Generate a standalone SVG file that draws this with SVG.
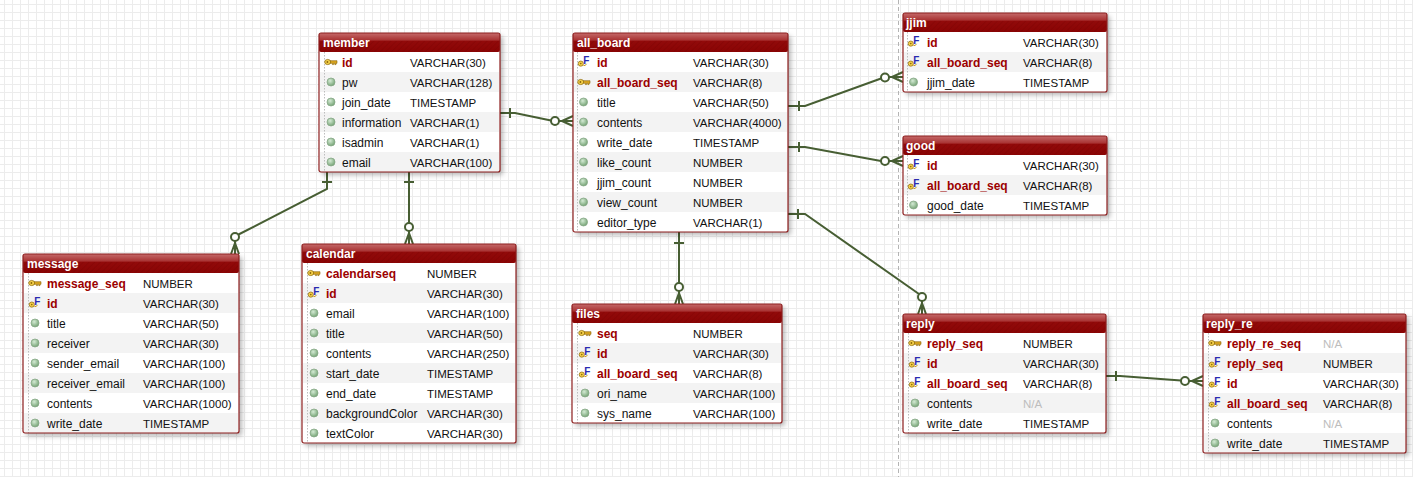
<svg xmlns="http://www.w3.org/2000/svg" xmlns:xlink="http://www.w3.org/1999/xlink" width="1413" height="477" viewBox="0 0 1413 477">
<defs>
<style>
text{font-family:"Liberation Sans",Arial,sans-serif;}
.ht{font-size:12px;font-weight:bold;fill:#fff;}
.k{font-size:12px;font-weight:bold;fill:#9c0000;}
.n{font-size:12px;fill:#111;}
.t{font-size:11.5px;fill:#111;}
.na{font-size:11.5px;fill:#bdbdbd;}
.body{fill:#fff;filter:url(#sh);}
.hd{fill:url(#hg);}
.hatch{fill:url(#hp);}
.alt{fill:#f3f3f3;}
.dot{stroke:#bdbdbd;stroke-width:1;stroke-dasharray:1.5,1.5;}
.frame{fill:none;stroke:#8e1f1f;stroke-width:1.2;}
.cn{fill:none;stroke:#475e33;stroke-width:2;}
.ci{fill:#fff;stroke:#475e33;stroke-width:2;}
.ff{font-size:10px;font-weight:bold;fill:#2a2ab0;}
</style>
<pattern id="grid" x="4" y="4" width="8" height="8" patternUnits="userSpaceOnUse">
<path d="M0,0.5 H8 M0.5,0 V8" fill="none" stroke="#ececec" stroke-width="1"/>
</pattern>
<pattern id="hp" width="4" height="4" patternUnits="userSpaceOnUse" patternTransform="rotate(45)">
<line x1="0" y1="0" x2="0" y2="4" stroke="#6a0000" stroke-width="1.2" stroke-opacity="0.35"/>
</pattern>
<linearGradient id="hg" x1="0" y1="0" x2="0" y2="1">
<stop offset="0" stop-color="#c56a6a"/>
<stop offset="0.38" stop-color="#a83232"/>
<stop offset="0.42" stop-color="#920a0a"/>
<stop offset="1" stop-color="#8a0404"/>
</linearGradient>
<radialGradient id="gc" cx="0.4" cy="0.35" r="0.7">
<stop offset="0" stop-color="#d4ead4"/>
<stop offset="1" stop-color="#6f9f6f"/>
</radialGradient>
<filter id="sh" x="-10%" y="-10%" width="125%" height="130%">
<feDropShadow dx="3" dy="3" stdDeviation="2.5" flood-color="#000" flood-opacity="0.28"/>
</filter>
<g id="col"><circle r="4" fill="url(#gc)" stroke="#88a888" stroke-width="0.8"/></g>
<g id="pk">
<path d="M-1,-1.3 H6 V1.3 H5 V2.6 H3.8 V1.3 H2.6 V2.6 H1.4 V1.3 H-1 Z" fill="#d9a520" stroke="#8a6508" stroke-width="0.6"/>
<ellipse cx="-3.3" cy="0" rx="3" ry="2.6" fill="#f3cf4a" stroke="#8a6508" stroke-width="0.7"/>
<circle cx="-3.6" cy="0" r="0.9" fill="#8a6508"/>
</g>
<g id="fk">
<circle cx="-3.2" cy="1.6" r="2.6" fill="#f3cf4a" stroke="#8a6508" stroke-width="0.7"/>
<circle cx="-3.2" cy="1.6" r="0.8" fill="#8a6508"/>
<path d="M-0.5,3.5 Q1.5,4.2 2.5,1.8" fill="none" stroke="#c89a20" stroke-width="1"/>
<text class="ff" x="-0.8" y="2.2">F</text>
</g>
</defs>

<rect width="1413" height="477" fill="#fff"/>
<rect width="1413" height="477" fill="url(#grid)"/>
<line x1="898.5" y1="0" x2="898.5" y2="477" stroke="#b4b4b4" stroke-width="1" stroke-dasharray="4,3"/>

<g id="connectors">
<!-- member - all_board -->
<path class="cn" d="M500,113 H515 L551,120.5 M510,108 V118 M559,121 H573 M562,121 L573,116 M562,121 L573,126"/>
<circle class="ci" cx="555" cy="121" r="4"/>
<!-- member - message -->
<path class="cn" d="M327,172 V189 L238.5,234.5 M322,182 H332 M235,241 V254 M235,243 L231,254 M235,243 L239,254"/>
<circle class="ci" cx="235" cy="237" r="4"/>
<!-- member - calendar -->
<path class="cn" d="M409,172 V223 M404,182 H414 M409,231 V244 M409,233 L405,244 M409,233 L413,244"/>
<circle class="ci" cx="409" cy="227" r="4"/>
<!-- all_board - jjim -->
<path class="cn" d="M788,106 H805 L881,78.5 M799,101 V111 M889,77 H903 M892,77 L903,72 M892,77 L903,82"/>
<circle class="ci" cx="885" cy="77.5" r="4"/>
<!-- all_board - good -->
<path class="cn" d="M788,147 H805 L881,161 M799,142 V152 M889,161 H903 M892,161 L903,156 M892,161 L903,166"/>
<circle class="ci" cx="885" cy="161" r="4"/>
<!-- all_board - files -->
<path class="cn" d="M679,232 V283 M674,243 H684 M679,291 V304 M679,293 L675,304 M679,293 L683,304"/>
<circle class="ci" cx="679" cy="287" r="4"/>
<!-- all_board - reply -->
<path class="cn" d="M788,214 H805 L919,294 M798,209 V219 M922,301 V314 M922,303 L918,314 M922,303 L926,314"/>
<circle class="ci" cx="922" cy="297" r="4"/>
<!-- reply - reply_re -->
<path class="cn" d="M1106,376 H1120 L1181,380.5 M1116,371 V381 M1189,381 H1203 M1192,381 L1203,376 M1192,381 L1203,386"/>
<circle class="ci" cx="1185" cy="381" r="4"/>
</g>

<g id="member" transform="translate(319,33)">
<rect class="body" width="181" height="139" rx="2"/>
<rect class="hd" width="181" height="19" rx="2"/>
<rect class="hatch" x="0" y="8" width="181" height="11"/>
<rect class="alt" x="1" y="39" width="179" height="20"/><rect class="alt" x="1" y="79" width="179" height="20"/><rect class="alt" x="1" y="119" width="179" height="20"/>
<line class="dot" x1="5.5" y1="19" x2="5.5" y2="139"/>
<text class="ht" x="4" y="14">member</text>
<use href="#pk" x="12" y="29"/><text class="k" x="23" y="33.5">id</text><text class="t" x="91" y="33.5">VARCHAR(30)</text>
<use href="#col" x="12" y="49"/><text class="n" x="23" y="53.5">pw</text><text class="t" x="91" y="53.5">VARCHAR(128)</text>
<use href="#col" x="12" y="69"/><text class="n" x="23" y="73.5">join_date</text><text class="t" x="91" y="73.5">TIMESTAMP</text>
<use href="#col" x="12" y="89"/><text class="n" x="23" y="93.5">information</text><text class="t" x="91" y="93.5">VARCHAR(1)</text>
<use href="#col" x="12" y="109"/><text class="n" x="23" y="113.5">isadmin</text><text class="t" x="91" y="113.5">VARCHAR(1)</text>
<use href="#col" x="12" y="129"/><text class="n" x="23" y="133.5">email</text><text class="t" x="91" y="133.5">VARCHAR(100)</text>
<rect class="frame" width="181" height="139" rx="2"/>
</g>

<g id="all_board" transform="translate(573,33)">
<rect class="body" width="215" height="199" rx="2"/>
<rect class="hd" width="215" height="19" rx="2"/>
<rect class="hatch" x="0" y="8" width="215" height="11"/>
<rect class="alt" x="1" y="39" width="213" height="20"/><rect class="alt" x="1" y="79" width="213" height="20"/><rect class="alt" x="1" y="119" width="213" height="20"/><rect class="alt" x="1" y="159" width="213" height="20"/>
<line class="dot" x1="4.5" y1="19" x2="4.5" y2="199"/>
<text class="ht" x="4" y="14">all_board</text>
<use href="#fk" x="11" y="29"/><text class="k" x="24" y="33.5">id</text><text class="t" x="120" y="33.5">VARCHAR(30)</text>
<use href="#pk" x="11" y="49"/><text class="k" x="24" y="53.5">all_board_seq</text><text class="t" x="120" y="53.5">VARCHAR(8)</text>
<use href="#col" x="10.5" y="69"/><text class="n" x="24" y="73.5">title</text><text class="t" x="120" y="73.5">VARCHAR(50)</text>
<use href="#col" x="10.5" y="89"/><text class="n" x="24" y="93.5">contents</text><text class="t" x="120" y="93.5">VARCHAR(4000)</text>
<use href="#col" x="10.5" y="109"/><text class="n" x="24" y="113.5">write_date</text><text class="t" x="120" y="113.5">TIMESTAMP</text>
<use href="#col" x="10.5" y="129"/><text class="n" x="24" y="133.5">like_count</text><text class="t" x="120" y="133.5">NUMBER</text>
<use href="#col" x="10.5" y="149"/><text class="n" x="24" y="153.5">jjim_count</text><text class="t" x="120" y="153.5">NUMBER</text>
<use href="#col" x="10.5" y="169"/><text class="n" x="24" y="173.5">view_count</text><text class="t" x="120" y="173.5">NUMBER</text>
<use href="#col" x="10.5" y="189"/><text class="n" x="24" y="193.5">editor_type</text><text class="t" x="120" y="193.5">VARCHAR(1)</text>
<rect class="frame" width="215" height="199" rx="2"/>
</g>

<g id="jjim" transform="translate(903,13)">
<rect class="body" width="204" height="79" rx="2"/>
<rect class="hd" width="204" height="19" rx="2"/>
<rect class="hatch" x="0" y="8" width="204" height="11"/>
<rect class="alt" x="1" y="39" width="202" height="20"/>
<line class="dot" x1="4.5" y1="19" x2="4.5" y2="79"/>
<text class="ht" x="3" y="14">jjim</text>
<use href="#fk" x="11" y="29"/><text class="k" x="24" y="33.5">id</text><text class="t" x="120" y="33.5">VARCHAR(30)</text>
<use href="#fk" x="11" y="49"/><text class="k" x="24" y="53.5">all_board_seq</text><text class="t" x="120" y="53.5">VARCHAR(8)</text>
<use href="#col" x="10.5" y="69"/><text class="n" x="24" y="73.5">jjim_date</text><text class="t" x="120" y="73.5">TIMESTAMP</text>
<rect class="frame" width="204" height="79" rx="2"/>
</g>

<g id="good" transform="translate(903,136)">
<rect class="body" width="204" height="79" rx="2"/>
<rect class="hd" width="204" height="19" rx="2"/>
<rect class="hatch" x="0" y="8" width="204" height="11"/>
<rect class="alt" x="1" y="39" width="202" height="20"/>
<line class="dot" x1="4.5" y1="19" x2="4.5" y2="79"/>
<text class="ht" x="3" y="14">good</text>
<use href="#fk" x="11" y="29"/><text class="k" x="24" y="33.5">id</text><text class="t" x="120" y="33.5">VARCHAR(30)</text>
<use href="#fk" x="11" y="49"/><text class="k" x="24" y="53.5">all_board_seq</text><text class="t" x="120" y="53.5">VARCHAR(8)</text>
<use href="#col" x="10.5" y="69"/><text class="n" x="24" y="73.5">good_date</text><text class="t" x="120" y="73.5">TIMESTAMP</text>
<rect class="frame" width="204" height="79" rx="2"/>
</g>

<g id="message" transform="translate(23,254)">
<rect class="body" width="216" height="179" rx="2"/>
<rect class="hd" width="216" height="19" rx="2"/>
<rect class="hatch" x="0" y="8" width="216" height="11"/>
<rect class="alt" x="1" y="39" width="214" height="20"/><rect class="alt" x="1" y="79" width="214" height="20"/><rect class="alt" x="1" y="119" width="214" height="20"/><rect class="alt" x="1" y="159" width="214" height="20"/>
<line class="dot" x1="5.5" y1="19" x2="5.5" y2="179"/>
<text class="ht" x="4" y="14">message</text>
<use href="#pk" x="12" y="29"/><text class="k" x="24" y="33.5">message_seq</text><text class="t" x="120" y="33.5">NUMBER</text>
<use href="#fk" x="12" y="49"/><text class="k" x="24" y="53.5">id</text><text class="t" x="120" y="53.5">VARCHAR(30)</text>
<use href="#col" x="12" y="69"/><text class="n" x="24" y="73.5">title</text><text class="t" x="120" y="73.5">VARCHAR(50)</text>
<use href="#col" x="12" y="89"/><text class="n" x="24" y="93.5">receiver</text><text class="t" x="120" y="93.5">VARCHAR(30)</text>
<use href="#col" x="12" y="109"/><text class="n" x="24" y="113.5">sender_email</text><text class="t" x="120" y="113.5">VARCHAR(100)</text>
<use href="#col" x="12" y="129"/><text class="n" x="24" y="133.5">receiver_email</text><text class="t" x="120" y="133.5">VARCHAR(100)</text>
<use href="#col" x="12" y="149"/><text class="n" x="24" y="153.5">contents</text><text class="t" x="120" y="153.5">VARCHAR(1000)</text>
<use href="#col" x="12" y="169"/><text class="n" x="24" y="173.5">write_date</text><text class="t" x="120" y="173.5">TIMESTAMP</text>
<rect class="frame" width="216" height="179" rx="2"/>
</g>

<g id="calendar" transform="translate(302,244)">
<rect class="body" width="214" height="199" rx="2"/>
<rect class="hd" width="214" height="19" rx="2"/>
<rect class="hatch" x="0" y="8" width="214" height="11"/>
<rect class="alt" x="1" y="39" width="212" height="20"/><rect class="alt" x="1" y="79" width="212" height="20"/><rect class="alt" x="1" y="119" width="212" height="20"/><rect class="alt" x="1" y="159" width="212" height="20"/>
<line class="dot" x1="5.5" y1="19" x2="5.5" y2="199"/>
<text class="ht" x="4" y="14">calendar</text>
<use href="#pk" x="12" y="29"/><text class="k" x="24" y="33.5">calendarseq</text><text class="t" x="125" y="33.5">NUMBER</text>
<use href="#fk" x="12" y="49"/><text class="k" x="24" y="53.5">id</text><text class="t" x="125" y="53.5">VARCHAR(30)</text>
<use href="#col" x="12" y="69"/><text class="n" x="24" y="73.5">email</text><text class="t" x="125" y="73.5">VARCHAR(100)</text>
<use href="#col" x="12" y="89"/><text class="n" x="24" y="93.5">title</text><text class="t" x="125" y="93.5">VARCHAR(50)</text>
<use href="#col" x="12" y="109"/><text class="n" x="24" y="113.5">contents</text><text class="t" x="125" y="113.5">VARCHAR(250)</text>
<use href="#col" x="12" y="129"/><text class="n" x="24" y="133.5">start_date</text><text class="t" x="125" y="133.5">TIMESTAMP</text>
<use href="#col" x="12" y="149"/><text class="n" x="24" y="153.5">end_date</text><text class="t" x="125" y="153.5">TIMESTAMP</text>
<use href="#col" x="12" y="169"/><text class="n" x="24" y="173.5">backgroundColor</text><text class="t" x="125" y="173.5">VARCHAR(30)</text>
<use href="#col" x="12" y="189"/><text class="n" x="24" y="193.5">textColor</text><text class="t" x="125" y="193.5">VARCHAR(30)</text>
<rect class="frame" width="214" height="199" rx="2"/>
</g>

<g id="files" transform="translate(572,304)">
<rect class="body" width="210" height="119" rx="2"/>
<rect class="hd" width="210" height="19" rx="2"/>
<rect class="hatch" x="0" y="8" width="210" height="11"/>
<rect class="alt" x="1" y="39" width="208" height="20"/><rect class="alt" x="1" y="79" width="208" height="20"/>
<line class="dot" x1="5.5" y1="19" x2="5.5" y2="119"/>
<text class="ht" x="4" y="14">files</text>
<use href="#pk" x="13" y="29"/><text class="k" x="25" y="33.5">seq</text><text class="t" x="121" y="33.5">NUMBER</text>
<use href="#fk" x="13" y="49"/><text class="k" x="25" y="53.5">id</text><text class="t" x="121" y="53.5">VARCHAR(30)</text>
<use href="#fk" x="13" y="69"/><text class="k" x="25" y="73.5">all_board_seq</text><text class="t" x="121" y="73.5">VARCHAR(8)</text>
<use href="#col" x="13" y="89"/><text class="n" x="25" y="93.5">ori_name</text><text class="t" x="121" y="93.5">VARCHAR(100)</text>
<use href="#col" x="13" y="109"/><text class="n" x="25" y="113.5">sys_name</text><text class="t" x="121" y="113.5">VARCHAR(100)</text>
<rect class="frame" width="210" height="119" rx="2"/>
</g>

<g id="reply" transform="translate(903,314)">
<rect class="body" width="203" height="119" rx="2"/>
<rect class="hd" width="203" height="19" rx="2"/>
<rect class="hatch" x="0" y="8" width="203" height="11"/>
<rect class="alt" x="1" y="39" width="201" height="20"/><rect class="alt" x="1" y="79" width="201" height="20"/>
<line class="dot" x1="5.5" y1="19" x2="5.5" y2="119"/>
<text class="ht" x="3" y="14">reply</text>
<use href="#pk" x="12" y="29"/><text class="k" x="24" y="33.5">reply_seq</text><text class="t" x="120" y="33.5">NUMBER</text>
<use href="#fk" x="12" y="49"/><text class="k" x="24" y="53.5">id</text><text class="t" x="120" y="53.5">VARCHAR(30)</text>
<use href="#fk" x="12" y="69"/><text class="k" x="24" y="73.5">all_board_seq</text><text class="t" x="120" y="73.5">VARCHAR(8)</text>
<use href="#col" x="12" y="89"/><text class="n" x="24" y="93.5">contents</text><text class="na" x="120" y="93.5">N/A</text>
<use href="#col" x="12" y="109"/><text class="n" x="24" y="113.5">write_date</text><text class="t" x="120" y="113.5">TIMESTAMP</text>
<rect class="frame" width="203" height="119" rx="2"/>
</g>

<g id="reply_re" transform="translate(1203,314)">
<rect class="body" width="203" height="139" rx="2"/>
<rect class="hd" width="203" height="19" rx="2"/>
<rect class="hatch" x="0" y="8" width="203" height="11"/>
<rect class="alt" x="1" y="39" width="201" height="20"/><rect class="alt" x="1" y="79" width="201" height="20"/><rect class="alt" x="1" y="119" width="201" height="20"/>
<line class="dot" x1="5.5" y1="19" x2="5.5" y2="139"/>
<text class="ht" x="3" y="14">reply_re</text>
<use href="#pk" x="12" y="29"/><text class="k" x="24" y="33.5">reply_re_seq</text><text class="na" x="120" y="33.5">N/A</text>
<use href="#fk" x="12" y="49"/><text class="k" x="24" y="53.5">reply_seq</text><text class="t" x="120" y="53.5">NUMBER</text>
<use href="#fk" x="12" y="69"/><text class="k" x="24" y="73.5">id</text><text class="t" x="120" y="73.5">VARCHAR(30)</text>
<use href="#fk" x="12" y="89"/><text class="k" x="24" y="93.5">all_board_seq</text><text class="t" x="120" y="93.5">VARCHAR(8)</text>
<use href="#col" x="12" y="109"/><text class="n" x="24" y="113.5">contents</text><text class="na" x="120" y="113.5">N/A</text>
<use href="#col" x="12" y="129"/><text class="n" x="24" y="133.5">write_date</text><text class="t" x="120" y="133.5">TIMESTAMP</text>
<rect class="frame" width="203" height="139" rx="2"/>
</g>
</svg>
